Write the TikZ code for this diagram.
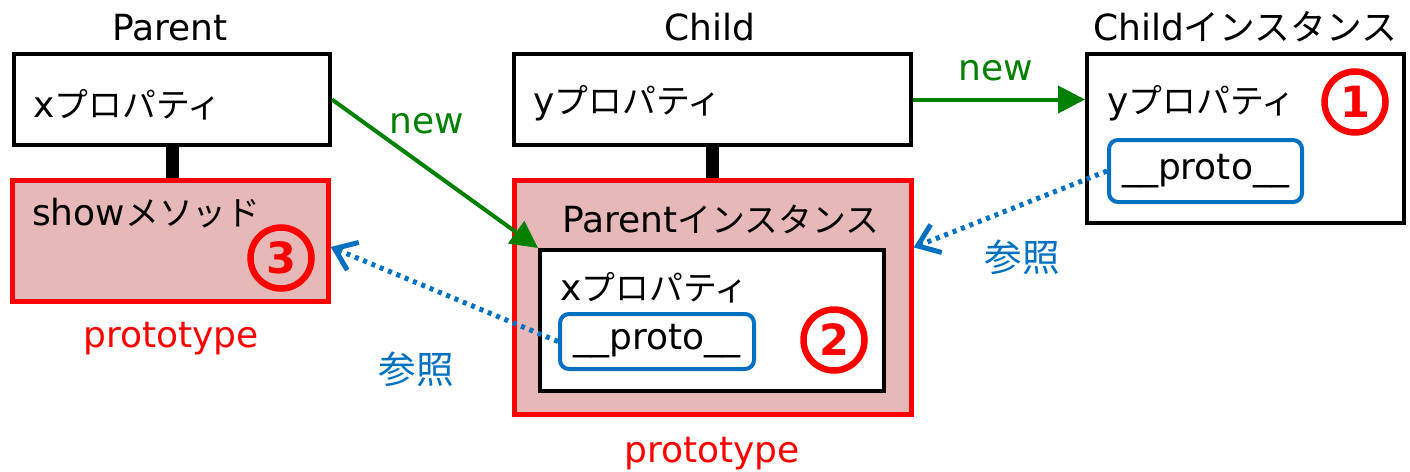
\documentclass[tikz,border=0pt]{standalone}
\usepackage{fontspec}
\setmainfont{DejaVu Sans}
\newfontfamily\jp{Noto Sans CJK JP}[Scale=0.94]
\usetikzlibrary{arrows.meta,calc}
\definecolor{protofill}{HTML}{E6B9B8}
\definecolor{refblue}{HTML}{0070C0}
\definecolor{newgreen}{HTML}{008000}
\definecolor{numred}{HTML}{FF0000}

\tikzset{
  objbox/.style={draw=black, line width=4pt, fill=white, inner sep=0pt},
  protobox/.style={draw=numred, line width=4.5pt, fill=protofill, inner sep=0pt},
  linkbox/.style={draw=refblue, line width=4pt, fill=white, rounded corners=9pt, inner sep=0pt,
    font=\fontsize{36}{40}\selectfont},
  lbl/.style={inner sep=0pt, font=\fontsize{36}{40}\selectfont},
  redlbl/.style={lbl, text=numred},
  greenlbl/.style={lbl, text=newgreen},
  bluelbl/.style={inner sep=0pt, text=refblue, font=\fontsize{40}{44}\selectfont\jp},
  numcirc/.style={circle, draw=numred, line width=6.5pt, minimum size=61pt, inner sep=0pt,
    text=numred, font=\fontsize{43}{44}\selectfont\bfseries},
  chainbar/.style={draw=black, line width=13pt},
  newarrow/.style={draw=newgreen, line width=4pt, -{Triangle[length=27pt,width=27pt]}},
  refarrow/.style={draw=refblue, line width=5pt, dash pattern=on 4pt off 5pt,
    -{Straight Barb[length=20pt,width=30pt,line width=5pt]}},
}

\begin{document}
\begin{tikzpicture}[x=1pt,y=-1pt]
\useasboundingbox (0,0) rectangle (1410,471);

% Parent constructor and its prototype
\node[objbox, minimum width=316pt, minimum height=91pt] (pbox) at (172,99.5) {};
\node[protobox, minimum width=316pt, minimum height=121pt] (pshow) at (170.5,241) {};
\draw[chainbar] (pbox.south) -- (pbox.south |- pshow.north);
\node[lbl, anchor=base] (ptitle) at (170,40) {Parent};
\node[lbl, anchor=base west] (px) at (33,117) {x{\jp プロパティ}};
\node[lbl, anchor=base west] (pshowtxt) at (32,225) {show{\jp メソッド}};
\node[redlbl, anchor=base] (pprot) at (171,347) {prototype};
\node[numcirc] (n3) at (281,258) {3};

% Child constructor, its prototype is a Parent instance
\node[objbox, minimum width=397pt, minimum height=91pt] (cbox) at (712.5,99.5) {};
\node[protobox, minimum width=397pt, minimum height=234pt] (pinst) at (713,297.5) {};
\draw[chainbar] (cbox.south) -- (cbox.south |- pinst.north);
\node[lbl, anchor=base] (ctitle) at (710,40) {Child};
\node[lbl, anchor=base west] (cy) at (533,113) {y{\jp プロパティ}};
\node[lbl, anchor=base west] (pinsttxt) at (562,232) {Parent{\jp インスタンス}};
\node[objbox, minimum width=344pt, minimum height=141pt] (pinner) at (712,320.5) {};
\node[lbl, anchor=base west] (pinx) at (560,300) {x{\jp プロパティ}};
\node[linkbox, minimum width=194pt, minimum height=55pt] (pinproto) at (657,341.5) {\_\_proto\_\_};
\node[numcirc] (n2) at (834,340) {2};
\node[redlbl, anchor=base] (cprot) at (712,462) {prototype};

% Child instance
\node[objbox, minimum width=317pt, minimum height=169pt] (cinst) at (1245.5,138.5) {};
\node[lbl, anchor=base] (cinsttitle) at (1245,40) {Child{\jp\fontsize{38}{40}\selectfont インスタンス}};
\node[lbl, anchor=base west] (ciy) at (1107,113) {y{\jp プロパティ}};
\node[linkbox, minimum width=193pt, minimum height=62pt] (cproto) at (1205.5,171) {\_\_proto\_\_};
\node[numcirc] (n1) at (1355,102) {1};

% new: constructor calls
\draw[newarrow] (pbox.east) -- (pinner.north west);
\node[greenlbl, anchor=base] (new1) at (426.5,133) {new};
\draw[newarrow] (cbox.east) -- (cbox.east -| cinst.west);
\node[greenlbl, anchor=base] (new2) at (995.5,80) {new};

% __proto__ references
\draw[refarrow] (cproto.west) -- ($(pinst.north east)!0.29!(pinst.south east)$);
\node[bluelbl] (ref1) at (1022,257) {参照};
\draw[refarrow] (pinproto.west) -- ([yshift=-6pt]pshow.east);
\node[bluelbl] (ref2) at (416,369) {参照};
\end{tikzpicture}
\end{document}
